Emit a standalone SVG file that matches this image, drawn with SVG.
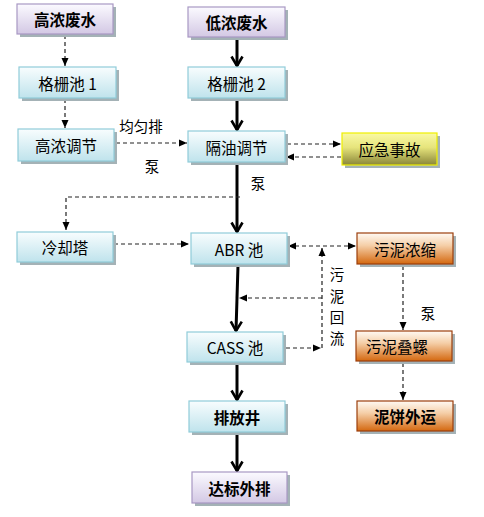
<svg xmlns="http://www.w3.org/2000/svg" width="484" height="517" viewBox="0 0 484 517">
<defs>
<linearGradient id="gBlue" x1="0" y1="0" x2="0" y2="1"><stop offset="0" stop-color="#f8fdfe"/><stop offset="1" stop-color="#bfe3ec"/></linearGradient>
<linearGradient id="gPurple" x1="0" y1="0" x2="0" y2="1"><stop offset="0" stop-color="#fbfaff"/><stop offset="1" stop-color="#d3c8e4"/></linearGradient>
<linearGradient id="gYellow" x1="0" y1="0" x2="0" y2="1"><stop offset="0" stop-color="#fafaa4"/><stop offset="0.45" stop-color="#e6e47c"/><stop offset="1" stop-color="#8a8638"/></linearGradient>
<linearGradient id="gOrange" x1="0" y1="0" x2="0" y2="1"><stop offset="0" stop-color="#fffaf4"/><stop offset="0.4" stop-color="#f5cfa8"/><stop offset="1" stop-color="#d4680f"/></linearGradient>
<marker id="mThick" markerWidth="14" markerHeight="14" refX="12" refY="7" orient="auto" markerUnits="userSpaceOnUse" viewBox="0 0 14 14" overflow="visible">
<path d="M2.5,1.5 L12,7 L2.5,12.5" fill="none" stroke="#000" stroke-width="2.6" stroke-linejoin="miter"/>
</marker>
<marker id="mDash" markerWidth="10" markerHeight="10" refX="9" refY="5" orient="auto" markerUnits="userSpaceOnUse" viewBox="0 0 10 10">
<path d="M1,1.5 L9,5 L1,8.5 Z" fill="#000"/>
</marker>
<marker id="mDashS" markerWidth="10" markerHeight="10" refX="1" refY="5" orient="auto" markerUnits="userSpaceOnUse" viewBox="0 0 10 10">
<path d="M9,1.5 L1,5 L9,8.5 Z" fill="#000"/>
</marker>
</defs>
<style>
.sh{fill:#a4b2b6;}
.blue{fill:url(#gBlue);stroke:#90ccd9;stroke-width:1.2;}
.purple{fill:url(#gPurple);stroke:#a898c4;stroke-width:1.2;}
.yellow{fill:url(#gYellow);stroke:#eeee00;stroke-width:1.2;}
.orange{fill:url(#gOrange);stroke:#9c3f0c;stroke-width:1.2;}
.t{font-family:"Noto Sans CJK SC","Liberation Sans",sans-serif;font-size:15.5px;fill:#000;text-anchor:middle;dominant-baseline:central;}
.b{font-weight:bold;}
.lbl{font-family:"Noto Sans CJK SC","Liberation Sans",sans-serif;font-size:14.5px;fill:#000;text-anchor:middle;dominant-baseline:central;}
.thick{fill:none;stroke:#000;stroke-width:3;}
.dash{fill:none;stroke:#222;stroke-width:1.2;stroke-dasharray:4,3;}
</style>
<rect width="484" height="517" fill="#fff"/>

<g id="connectors">
<line class="thick" x1="237" y1="38" x2="237" y2="66" marker-end="url(#mThick)"/>
<line class="thick" x1="237" y1="99" x2="237" y2="130" marker-end="url(#mThick)"/>
<line class="thick" x1="237" y1="164" x2="237" y2="232" marker-end="url(#mThick)"/>
<line class="thick" x1="238" y1="265" x2="236" y2="331" marker-end="url(#mThick)"/>
<line class="thick" x1="237" y1="363" x2="237" y2="400" marker-end="url(#mThick)"/>
<line class="thick" x1="237" y1="433" x2="237" y2="471" marker-end="url(#mThick)"/>

<line class="dash" x1="65" y1="35" x2="65" y2="66" marker-end="url(#mDash)"/>
<line class="dash" x1="65" y1="99" x2="65" y2="128" marker-end="url(#mDash)"/>
<line class="dash" x1="116" y1="143" x2="187" y2="143" marker-end="url(#mDash)"/>
<line class="dash" x1="287" y1="144" x2="341" y2="144" marker-end="url(#mDash)"/>
<line class="dash" x1="341" y1="157" x2="286" y2="157" marker-end="url(#mDash)"/>
<polyline class="dash" points="240,197 66,197 66,230" marker-end="url(#mDash)"/>
<line class="dash" x1="114" y1="244" x2="189" y2="244" marker-end="url(#mDash)"/>
<line class="dash" x1="288" y1="246" x2="356" y2="246" marker-start="url(#mDashS)" marker-end="url(#mDash)"/>
<line class="dash" x1="322" y1="348" x2="322" y2="248" marker-end="url(#mDash)"/>
<line class="dash" x1="322" y1="298" x2="239" y2="298" marker-end="url(#mDash)"/>
<line class="dash" x1="286" y1="348" x2="321" y2="348" marker-end="url(#mDash)"/>
<line class="dash" x1="403" y1="266" x2="403" y2="330" marker-end="url(#mDash)"/>
<line class="dash" x1="403" y1="363" x2="403" y2="400" marker-end="url(#mDash)"/>
</g>

<g id="labels">
<text class="lbl" x="141" y="125">均匀排</text>
<text class="lbl" x="152" y="165">泵</text>
<text class="lbl" x="258" y="182">泵</text>
<text class="lbl" x="428" y="312">泵</text>
<text class="lbl" x="337" y="273">污</text>
<text class="lbl" x="337" y="295">泥</text>
<text class="lbl" x="337" y="316">回</text>
<text class="lbl" x="337" y="337">流</text>
</g>

<g id="n_gaonong_feishui">
<rect class="sh" x="20" y="7" width="96" height="30"/>
<rect class="purple" x="17" y="4" width="96" height="30"/>
<text class="t b" x="65" y="19">高浓废水</text>
</g>
<g id="n_dinong_feishui">
<rect class="sh" x="191" y="10" width="97" height="30"/>
<rect class="purple" x="188" y="7" width="97" height="30"/>
<text class="t b" x="236.5" y="22">低浓废水</text>
</g>
<g id="n_gezhachi1">
<rect class="sh" x="22" y="70" width="97" height="31"/>
<rect class="blue" x="19" y="67" width="97" height="31"/>
<text class="t" x="67.5" y="82.5">格栅池 1</text>
</g>
<g id="n_gezhachi2">
<rect class="sh" x="191" y="70" width="97" height="31"/>
<rect class="blue" x="188" y="67" width="97" height="31"/>
<text class="t" x="236.5" y="82.5">格栅池 2</text>
</g>
<g id="n_gaonong_tiaojie">
<rect class="sh" x="21" y="132" width="96" height="32"/>
<rect class="blue" x="18" y="129" width="96" height="32"/>
<text class="t" x="66" y="145">高浓调节</text>
</g>
<g id="n_geyou_tiaojie">
<rect class="sh" x="191" y="134" width="97" height="31"/>
<rect class="blue" x="188" y="131" width="97" height="31"/>
<text class="t" x="236.5" y="146.5">隔油调节</text>
</g>
<g id="n_yingji_shigu">
<rect class="sh" x="345" y="136" width="95" height="32"/>
<rect class="yellow" x="342" y="133" width="95" height="32"/>
<text class="t" x="389.5" y="149">应急事故</text>
</g>
<g id="n_lengqueta">
<rect class="sh" x="20" y="235" width="96" height="30"/>
<rect class="blue" x="17" y="232" width="96" height="30"/>
<text class="t" x="65" y="247">冷却塔</text>
</g>
<g id="n_abr">
<rect class="sh" x="194" y="236" width="96" height="31"/>
<rect class="blue" x="191" y="233" width="96" height="31"/>
<text class="t" x="239" y="248.5">ABR 池</text>
</g>
<g id="n_wuni_nongsuo">
<rect class="sh" x="360" y="236" width="96" height="31"/>
<rect class="orange" x="357" y="233" width="96" height="31"/>
<text class="t" x="405" y="248.5">污泥浓缩</text>
</g>
<g id="n_cass">
<rect class="sh" x="190" y="335" width="96" height="30"/>
<rect class="blue" x="187" y="332" width="96" height="30"/>
<text class="t" x="235" y="347">CASS 池</text>
</g>
<g id="n_wuni_dieluo">
<rect class="sh" x="359" y="334" width="96" height="30"/>
<rect class="orange" x="356" y="331" width="96" height="30"/>
<text class="t" x="397" y="346">污泥叠螺</text>
</g>
<g id="n_paifangjing">
<rect class="sh" x="192" y="404" width="96" height="31"/>
<rect class="blue" x="189" y="401" width="96" height="31"/>
<text class="t b" x="237" y="416.5">排放井</text>
</g>
<g id="n_nibing_waiyun">
<rect class="sh" x="360" y="404" width="96" height="30"/>
<rect class="orange" x="357" y="401" width="96" height="30"/>
<text class="t b" x="405" y="416">泥饼外运</text>
</g>
<g id="n_dabiao_waipai">
<rect class="sh" x="195" y="475" width="95" height="31"/>
<rect class="purple" x="192" y="472" width="95" height="31"/>
<text class="t b" x="239.5" y="487.5">达标外排</text>
</g>
</svg>
